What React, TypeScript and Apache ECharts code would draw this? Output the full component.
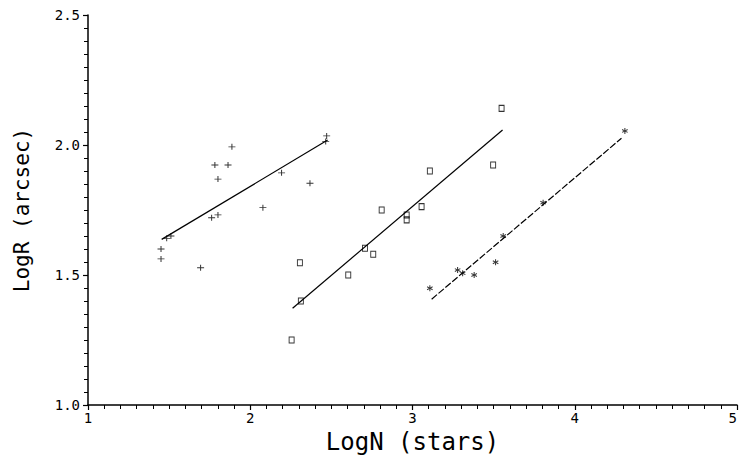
import React, { useEffect, useRef } from 'react';
import * as echarts from 'echarts';

// Group 1 ("+" markers)
const plusX = [1.45, 1.45, 1.485, 1.511, 1.694, 1.762, 1.801, 2.078, 1.801, 1.782, 1.863, 1.887, 2.193, 2.368, 2.471, 2.465];
const plusY = [1.60, 1.562, 1.641, 1.65, 1.528, 1.72, 1.731, 1.759, 1.869, 1.923, 1.923, 1.993, 1.893, 1.853, 2.035, 2.013];
// Group 2 (open squares)
const squareX = [2.306, 2.604, 2.312, 2.255, 3.107, 2.81, 2.964, 2.964, 3.056, 2.707, 2.758, 3.549, 3.497];
const squareY = [1.547, 1.50, 1.40, 1.25, 1.90, 1.75, 1.731, 1.712, 1.763, 1.603, 1.58, 2.141, 1.923];
// Group 3 (asterisks)
const starX = [3.107, 3.278, 3.309, 3.38, 3.512, 3.559, 3.805, 4.309];
const starY = [1.449, 1.519, 1.507, 1.50, 1.549, 1.65, 1.778, 2.054];
// Fitted lines (end points)
const fit1X = [1.454, 2.477];
const fit1Y = [1.637, 2.019];
const fit2X = [2.261, 3.555];
const fit2Y = [1.372, 2.058];
const fit3X = [3.118, 4.288];
const fit3Y = [1.407, 2.026];

const xTicks = [1, 2, 3, 4, 5];
const yTicks = [1.0, 1.5, 2.0, 2.5];

const zip = (xs: number[], ys: number[]) => xs.map((x, i) => [x, ys[i]]);

const PLUS = 'path://M0,3H7V4H0Z M3,0H4V7H3Z';
const STAR = 'path://M2.5,0H3.5V2.2L5.4,1.1L5.9,2L4,3L5.9,4L5.4,4.9L3.5,3.8V6H2.5V3.8L0.6,4.9L0.1,4L2,3L0.1,2L0.6,1.1L2.5,2.2Z';
const MONO = 'DejaVu Sans Mono';

export default function App() {
  const ref = useRef<HTMLDivElement>(null);
  useEffect(() => {
    if (!ref.current) return;
    const chart = echarts.init(ref.current, null, { renderer: 'svg' });
    const axisCommon = {
      axisLine: { show: true, lineStyle: { color: '#000', width: 1.5 } },
      axisTick: { show: true, length: 5, lineStyle: { color: '#000', width: 1.2 } },
      minorTick: { show: true, splitNumber: 10, length: 4, lineStyle: { color: '#000', width: 1 } },
      splitLine: { show: false },
      minorSplitLine: { show: false },
      nameLocation: 'middle' as const,
    };
    const lineSeries = (xs: number[], ys: number[], dashed: boolean) => ({
      type: 'line',
      data: zip(xs, ys),
      symbol: 'none',
      silent: true,
      lineStyle: { color: '#000', width: 1.2, type: dashed ? [7, 2] : 'solid' },
    });
    chart.setOption({
      animation: false,
      backgroundColor: '#fff',
      grid: { left: 88, right: 2, top: 15, bottom: 50, containLabel: false, outerBoundsMode: 'none' },
      xAxis: {
        type: 'value',
        min: xTicks[0],
        max: xTicks[xTicks.length - 1],
        interval: 1,
        ...axisCommon,
        name: 'LogN (stars)',
        nameGap: 19,
        nameTextStyle: { fontFamily: MONO, fontSize: 24, color: '#000' },
        axisLabel: {
          fontFamily: MONO, fontSize: 14, color: '#000', margin: 6,
          showMaxLabel: true, showMinLabel: true, alignMaxLabel: 'right',
        },
      },
      yAxis: {
        type: 'value',
        min: yTicks[0],
        max: yTicks[yTicks.length - 1],
        interval: 0.5,
        ...axisCommon,
        name: 'LogR (arcsec)',
        nameGap: 56,
        nameTextStyle: { fontFamily: MONO, fontSize: 21, color: '#000' },
        axisLabel: {
          fontFamily: MONO, fontSize: 14, color: '#000', margin: 8,
          formatter: (v: number) => v.toFixed(1),
        },
      },
      series: [
        lineSeries(fit1X, fit1Y, false),
        lineSeries(fit2X, fit2Y, false),
        lineSeries(fit3X, fit3Y, true),
        {
          type: 'scatter', data: zip(plusX, plusY), symbol: PLUS, symbolSize: [7, 6],
          itemStyle: { color: '#000' },
        },
        {
          type: 'scatter', data: zip(squareX, squareY), symbol: 'rect', symbolSize: [5, 6],
          itemStyle: { color: 'transparent', borderColor: '#000', borderWidth: 1 },
        },
        {
          type: 'scatter', data: zip(starX, starY), symbol: STAR, symbolSize: [6, 6],
          itemStyle: { color: '#000' },
        },
      ],
    });
    return () => chart.dispose();
  }, []);
  return <div ref={ref} style={{ position: 'absolute', left: 0, top: 0, width: 739, height: 455 }} />;
}
